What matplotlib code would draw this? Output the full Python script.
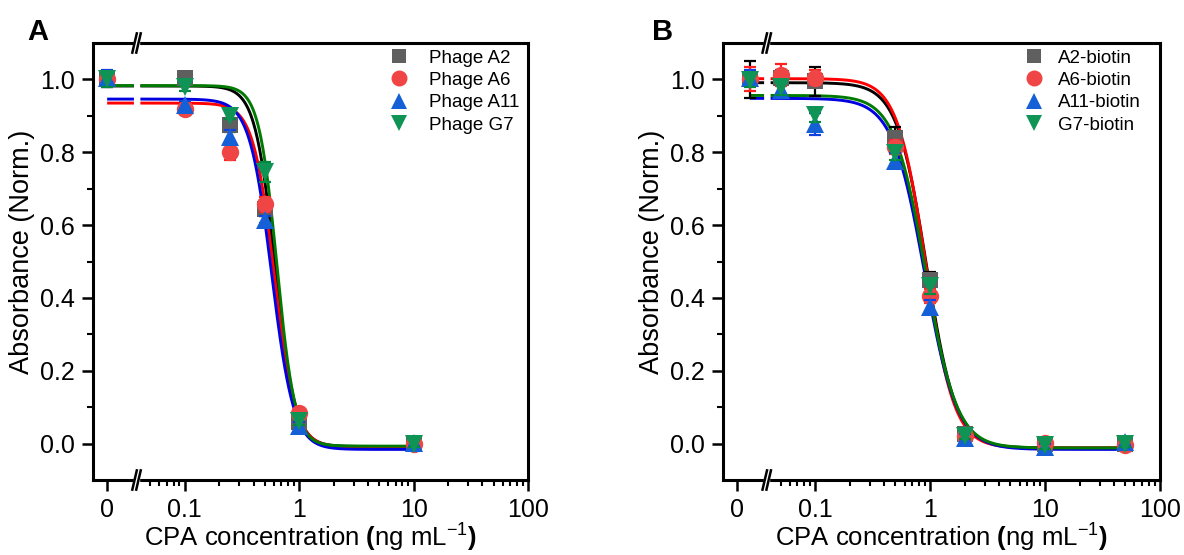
import numpy as np
import matplotlib
matplotlib.use("Agg")
import matplotlib.pyplot as plt
import matplotlib.transforms as mtransforms

plt.rcParams['font.family'] = ['Liberation Sans', 'DejaVu Sans']
plt.rcParams['mathtext.fontset'] = 'custom'
plt.rcParams['mathtext.rm'] = 'Liberation Sans'
plt.rcParams['mathtext.it'] = 'Liberation Sans:italic'
plt.rcParams['mathtext.bf'] = 'Liberation Sans:bold'

# ---------------- data ----------------
# Panel A concentrations (ng/mL); the first value is the "0" sample, drawn at the "0" tick
conc_A = [0.021, 0.1, 0.25, 0.5, 1, 10]
names_A = ["Phage A2", "Phage A6", "Phage A11", "Phage G7"]
vals_A = {
    "Phage A2":  [1.000, 1.005, 0.875, 0.645, 0.060, 0.000],
    "Phage A6":  [1.000, 0.920, 0.800, 0.657, 0.085, 0.000],
    "Phage A11": [1.005, 0.930, 0.842, 0.615, 0.048, 0.002],
    "Phage G7":  [1.000, 0.978, 0.900, 0.745, 0.062, 0.000],
}
err_A = {
    "Phage A2":  [0.020, 0.010, 0.020, 0.020, 0.010, 0.010],
    "Phage A6":  [0.010, 0.010, 0.020, 0.020, 0.010, 0.010],
    "Phage A11": [0.020, 0.010, 0.020, 0.010, 0.010, 0.010],
    "Phage G7":  [0.020, 0.010, 0.010, 0.027, 0.010, 0.010],
}
# fitted logistic curves: top, bottom, EC50, Hill slope
fit_A = {
    "Phage A2":  (0.982, -0.008, 0.615, 5.0),
    "Phage A6":  (0.935, -0.010, 0.607, 4.7),
    "Phage A11": (0.946, -0.016, 0.576, 4.5),
    "Phage G7":  (0.983, -0.007, 0.640, 5.5),
}

conc_B = [0.027, 0.05, 0.1, 0.5, 1, 2, 10, 50]
names_B = ["A2-biotin", "A6-biotin", "A11-biotin", "G7-biotin"]
vals_B = {
    "A2-biotin":  [1.000, 1.005, 0.995, 0.838, 0.450, 0.025, 0.000, 0.000],
    "A6-biotin":  [1.000, 1.012, 1.005, 0.815, 0.405, 0.020, 0.002, -0.003],
    "A11-biotin": [1.005, 0.970, 0.878, 0.777, 0.375, 0.015, -0.010, 0.005],
    "G7-biotin":  [0.998, 0.978, 0.902, 0.798, 0.432, 0.022, -0.005, 0.000],
}
err_B = {
    "A2-biotin":  [0.050, 0.020, 0.040, 0.030, 0.020, 0.010, 0.010, 0.010],
    "A6-biotin":  [0.033, 0.030, 0.020, 0.020, 0.020, 0.010, 0.010, 0.010],
    "A11-biotin": [0.020, 0.020, 0.030, 0.020, 0.020, 0.010, 0.010, 0.010],
    "G7-biotin":  [0.020, 0.020, 0.020, 0.020, 0.020, 0.010, 0.010, 0.010],
}
fit_B = {
    "A2-biotin":  (0.991, -0.012, 0.930, 3.4),
    "A6-biotin":  (1.002, -0.012, 0.915, 3.5),
    "A11-biotin": (0.948, -0.016, 0.900, 3.1),
    "G7-biotin":  (0.956, -0.012, 0.915, 3.2),
}

xtick_vals = [0.021, 0.1, 1, 10, 100]
xtick_labels = ["0", "0.1", "1", "10", "100"]

# ---------------- style ----------------
marker_styles = ['s', 'o', '^', 'v']
marker_sizes = [11.5, 12.5, 12.5, 12.5]
marker_colors = ['#5f5f5f', '#f04545', '#1560d6', '#109455']
curve_colors = ['#000000', '#ff0000', '#0000e0', '#007a00']
err_colors = ['#000000', '#ff2020', '#1040e0', '#008a40']
brk_lo, brk_hi = 0.036, 0.041

def logistic(x, top, bottom, ec50, h):
    return bottom + (top - bottom) / (1.0 + (x / ec50) ** h)

fig = plt.figure(figsize=(11.84, 5.55), dpi=100)
axA = fig.add_axes([93/1184, 75/555, 435/1184, 437/555])
axB = fig.add_axes([723/1184, 75/555, 437/1184, 437/555])

def draw_panel(ax, conc, names, vals, errs, fits, leg_x, tpad):
    conc = np.asarray(conc, float)
    for i, n in enumerate(names):
        top, bot, ec, h = fits[n]
        x1 = np.logspace(np.log10(conc[0]), np.log10(brk_lo), 50)
        x2 = np.logspace(np.log10(brk_hi), np.log10(conc[-1]), 400)
        xx = np.concatenate([x1, [np.nan], x2])
        ax.plot(xx, logistic(xx, top, bot, ec, h), color=curve_colors[i], lw=2.1,
                zorder=2, solid_capstyle='butt')
    for i, n in enumerate(names):
        ax.errorbar(conc, vals[n], yerr=errs[n], fmt='none', ecolor=err_colors[i],
                    elinewidth=1.6, capsize=4, capthick=1.6, zorder=3 + i * 0.1)
        ax.plot(conc, vals[n], linestyle='none', marker=marker_styles[i],
                markersize=marker_sizes[i],
                color=marker_colors[i], markeredgewidth=0, label=n, zorder=3.05 + i * 0.1)
    ax.set_xscale('log')
    ax.set_xlim(0.0158, 100)
    ax.set_ylim(-0.1, 1.1)
    ax.set_xticks(xtick_vals)
    ax.set_xticklabels(xtick_labels)
    minors = [m * 10.0 ** e for e in (-2, -1, 0, 1) for m in range(2, 10)]
    minors = [m for m in minors if m >= 0.05 and m < 100]
    ax.set_xticks(minors, minor=True)
    ax.xaxis.set_minor_formatter(matplotlib.ticker.NullFormatter())
    ax.set_yticks(np.arange(0, 1.01, 0.2))
    ax.set_yticklabels([f"{v:.1f}" for v in np.arange(0, 1.01, 0.2)])
    ax.set_yticks(np.arange(0.1, 1.0, 0.2), minor=True)
    ax.tick_params(which='major', direction='out', length=8, width=1.8,
                   labelsize=18, top=False, right=False, pad=5)
    ax.tick_params(which='minor', direction='out', length=4, width=1.5,
                   top=False, right=False)
    for s in ax.spines.values():
        s.set_linewidth(2.2)
    ax.set_xlabel(r"CPA concentration $\mathbf{(}$ng mL$^{\mathregular{-1}}$$\mathbf{)}$",
                  fontsize=18.5)
    ax.xaxis.label.set_va('baseline')
    ax.xaxis.set_label_coords(0.5, -(547 - 480) / 437)
    ax.set_ylabel("Absorbance (Norm.)", fontsize=19.5)
    ax.yaxis.label.set_va('center')
    ax.yaxis.set_label_coords(-71 / 437, (480 - 252) / 437)
    ax.legend(loc='upper left', bbox_to_anchor=(leg_x, 0.985), frameon=False,
              fontsize=13.5, handlelength=1.0, handletextpad=tpad, borderpad=0,
              borderaxespad=0, labelspacing=0.28, markerscale=0.92)
    # axis-break marks on top and bottom spines
    trans = mtransforms.blended_transform_factory(ax.transData, ax.transAxes)
    xa, xb = 0.0365, 0.0395
    for yb in (0.0, 1.0):
        ax.fill([xa * 0.985, xb * 1.015, xb * 1.015, xa * 0.985],
                [yb - 0.006, yb - 0.006, yb + 0.006, yb + 0.006],
                color='white', transform=trans, clip_on=False, zorder=10)
        for xc in (xa, xb):
            ax.plot([xc * 0.955, xc * 1.045], [yb - 0.022, yb + 0.022], color='black',
                    lw=1.8, transform=trans, clip_on=False, zorder=11)

draw_panel(axA, conc_A, names_A, vals_A, err_A, fit_A, 0.683, 1.05)
draw_panel(axB, conc_B, names_B, vals_B, err_B, fit_B, 0.69, 0.8)

fig.text(27/1184, 1 - 40/555, "A", fontsize=21, fontweight='bold')
fig.text(652/1184, 1 - 40/555, "B", fontsize=21, fontweight='bold')

fig.savefig("out.png", dpi=100)
